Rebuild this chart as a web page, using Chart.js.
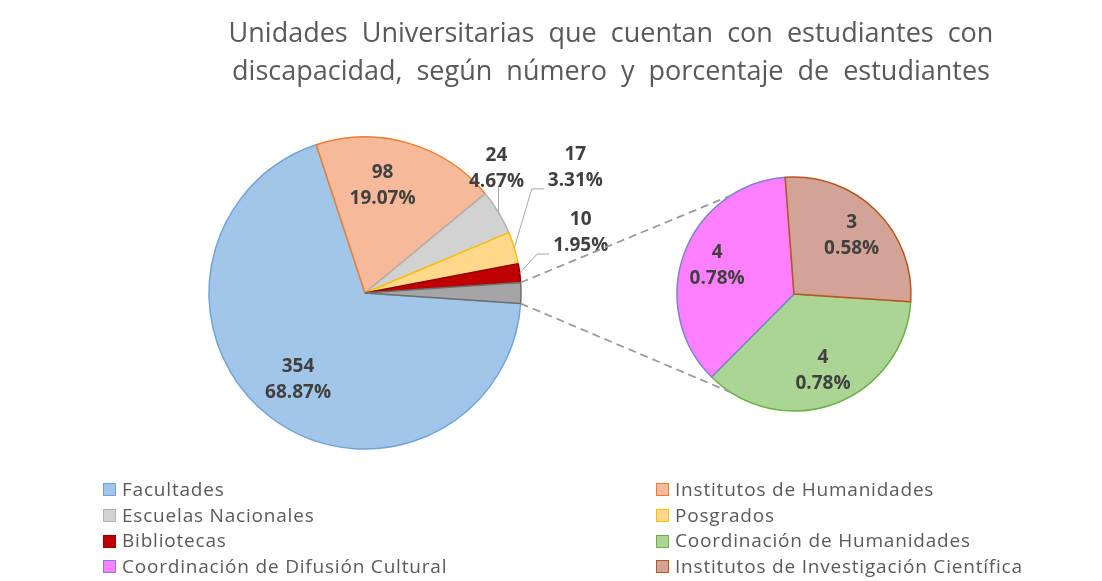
<!DOCTYPE html>
<html>
<head>
<meta charset="utf-8">
<script src="https://cdn.jsdelivr.net/npm/chart.js@4.4.1/dist/chart.umd.min.js"></script>
<style>
  html, body { margin: 0; padding: 0; background: #fff; }
  #wrap { position: relative; width: 1102px; height: 581px; overflow: hidden; font-family: "Open Sans", sans-serif; color: #595959; }
  #wrap canvas { position: absolute; left: 0; top: 0; }
  #title { position: absolute; left: 100px; top: 13px; width: 1022px; text-align: center; font-size: 27px; line-height: 38px; white-space: nowrap; word-spacing: 7px; }
  #legend { position: absolute; left: 103px; top: 477px; display: grid; grid-template-columns: 553px auto; font-size: 19px; letter-spacing: 0.8px; line-height: 25.7px; }
  .item { display: flex; align-items: center; white-space: nowrap; }
  .box { width: 11px; height: 11px; border: 1px solid; margin-right: 6px; }
</style>
</head>
<body>
<div id="wrap">
  <canvas id="mainPie" width="1102" height="581"></canvas>
  <canvas id="subPie" width="1102" height="581"></canvas>
  <div id="title"></div>
  <div id="legend"></div>
</div>
<script>
// data
const chartTitle = ["Unidades Universitarias que cuentan con estudiantes con",
                    "discapacidad, según número y porcentaje de estudiantes"];
const mainLabels = ["Facultades", "Institutos de Humanidades", "Escuelas Nacionales", "Posgrados", "Bibliotecas"];
const mainValues = [354, 98, 24, 17, 10];
const subLabels = ["Coordinación de Humanidades", "Coordinación de Difusión Cultural", "Institutos de Investigación Científica"];
const subValues = [4, 4, 3];

// colours
const mainFill = ["#A2C6EA", "#F6BA9A", "#D3D2D2", "#FFD88C", "#C00000", "#A5A5A5"];
const mainBorder = ["#6FA3D8", "#ED7D31", "#B0B0B0", "#FFC000", "#8E0000", "#6E6E6E"];
const subFill = ["#AAD595", "#FF80FF", "#D4A397"];
const subBorder = ["#70AD47", "#7F7FD6", "#B8541C"];

const otherValue = subValues.reduce((a, b) => a + b, 0);
const pieValues = mainValues.concat([otherValue]);
const total = pieValues.reduce((a, b) => a + b, 0);
// "other" slice centred on 3 o'clock
const startDeg = 90 + otherValue / total * 180;

document.getElementById("title").innerHTML = chartTitle.join("<br>");

var legend = document.getElementById("legend");
var legendLabels = mainLabels.concat(subLabels);
var legendFill = mainFill.slice(0, mainLabels.length).concat(subFill);
var legendBorder = mainBorder.slice(0, mainLabels.length).concat(subBorder);
legendLabels.forEach(function (name, i) {
    var it = document.createElement("div");
    it.className = "item";
    var b = document.createElement("span");
    b.className = "box";
    b.style.background = legendFill[i];
    b.style.borderColor = legendBorder[i];
    it.appendChild(b);
    it.appendChild(document.createTextNode(name));
    legend.appendChild(it);
});

// value + percent labels on the slices
const sliceLabels = {
    id: "sliceLabels",
    afterDatasetsDraw(chart, args, opts) {
        var ctx = chart.ctx;
        var arcs = chart.getDatasetMeta(0).data;
        var values = chart.data.datasets[0].data;
        ctx.save();
        ctx.font = "bold 19px 'Open Sans'";
        ctx.textAlign = "center";
        ctx.textBaseline = "middle";
        arcs.forEach(function (arc, i) {
            if (opts.skip && opts.skip.indexOf(i) >= 0) return;
            var mid = (arc.startAngle + arc.endAngle) / 2 + (opts.shift ? opts.shift[i] || 0 : 0);
            var lines = [String(values[i]), (values[i] / total * 100).toFixed(2) + "%"];
            var out = opts.outside && opts.outside[i];
            var cx, cy;
            if (out) {
                var ex = arc.x + Math.cos(mid) * arc.outerRadius;
                var ey = arc.y + Math.sin(mid) * arc.outerRadius;
                cx = ex + out[0];
                cy = ey + out[1];
                var w = ctx.measureText(lines[1]).width;
                ctx.strokeStyle = "#A6A6A6";
                ctx.lineWidth = 1;
                ctx.beginPath();
                ctx.moveTo(ex, ey);
                if (out[2] === "v") {
                    ctx.lineTo(ex, cy + 17);
                } else {
                    ctx.lineTo(cx - w / 2 - 16, cy + 21);
                    ctx.lineTo(cx - w / 2 - 4, cy + 21);
                }
                ctx.stroke();
            } else {
                var r = arc.outerRadius * opts.inner;
                cx = arc.x + Math.cos(mid) * r;
                cy = arc.y + Math.sin(mid) * r;
            }
            ctx.fillStyle = "#404040";
            ctx.fillText(lines[0], cx, cy - 13);
            ctx.fillText(lines[1], cx, cy + 13);
        });
        ctx.restore();
    }
};

var mainChart = new Chart(document.getElementById("mainPie"), {
    type: "pie",
    data: {
        labels: mainLabels.concat(["Otros"]),
        datasets: [
            {
                data: pieValues,
                backgroundColor: mainFill,
                borderColor: mainBorder,
                borderWidth: 1.5,
                rotation: startDeg,
                radius: 156,
            },
        ],
    },
    options: {
        responsive: false,
        animation: false,
        layout: { padding: { left: 0, right: 372, top: 5, bottom: 0 } },
        plugins: {
            legend: { display: false },
            tooltip: { enabled: false },
            sliceLabels: {
                inner: 0.7,
                skip: [5],
                shift: [0, -0.12],
                outside: { 2: [-2, -44, "v"], 3: [61, -80], 4: [61, -40] },
            },
        },
    },
    plugins: [sliceLabels],
});

// dashed lines from the "other" slice to the second pie
const connector = {
    id: "connector",
    afterDraw(chart) {
        var other = mainChart.getDatasetMeta(0).data[pieValues.length - 1];
        var c = chart.getDatasetMeta(0).data[0];
        var ctx = chart.ctx;
        ctx.save();
        ctx.strokeStyle = "#9A9A9A";
        ctx.lineWidth = 1.8;
        ctx.setLineDash([8, 5]);
        [other.startAngle, other.endAngle].forEach(function (a) {
            var px = other.x + Math.cos(a) * other.outerRadius;
            var py = other.y + Math.sin(a) * other.outerRadius;
            var dx = px - c.x, dy = py - c.y;
            var d = Math.sqrt(dx * dx + dy * dy);
            var base = Math.atan2(dy, dx);
            var off = Math.acos(c.outerRadius / d) * 0.85;
            var t = py < other.y ? base + off : base - off;
            ctx.beginPath();
            ctx.moveTo(px, py);
            ctx.lineTo(c.x + Math.cos(t) * c.outerRadius, c.y + Math.sin(t) * c.outerRadius);
            ctx.stroke();
        });
        ctx.restore();
    }
};

var subChart = new Chart(document.getElementById("subPie"), {
    type: "pie",
    data: {
        labels: subLabels,
        datasets: [
            {
                data: subValues,
                backgroundColor: subFill,
                borderColor: subBorder,
                borderWidth: 1.5,
                rotation: startDeg,
                radius: 117,
            },
        ],
    },
    options: {
        responsive: false,
        animation: false,
        layout: { padding: { left: 486, right: 0, top: 7, bottom: 0 } },
        plugins: {
            legend: { display: false },
            tooltip: { enabled: false },
            sliceLabels: { inner: 0.7 },
        },
    },
    plugins: [sliceLabels, connector],
});
</script>
</body>
</html>
